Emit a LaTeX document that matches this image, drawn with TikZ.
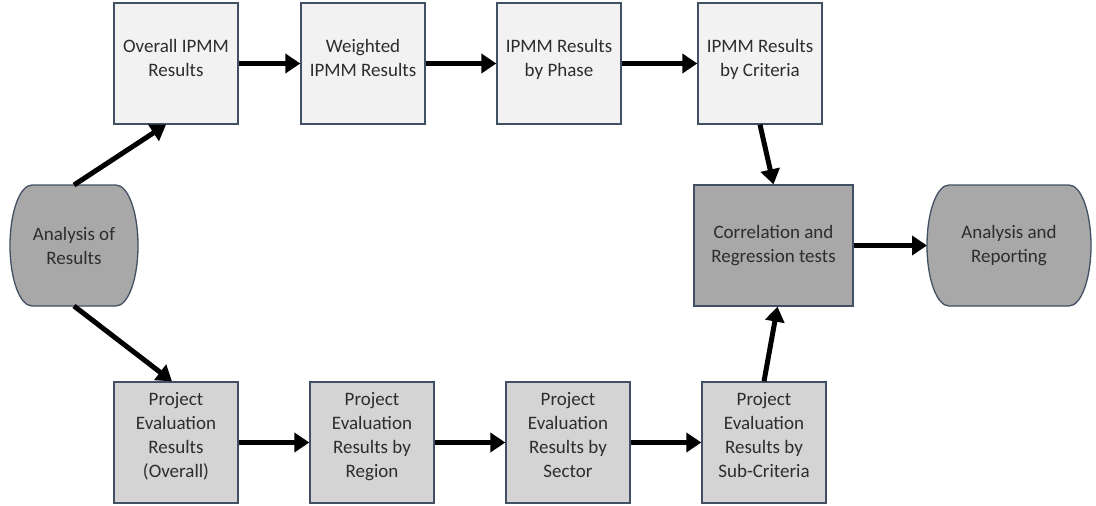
\documentclass[tikz,border=0pt]{standalone}
\usepackage{fontspec}
\setmainfont{Carlito}
\usetikzlibrary{arrows.meta}

\definecolor{edgeblue}{RGB}{66,80,100}
\definecolor{topfill}{RGB}{242,242,242}
\definecolor{lowfill}{RGB}{212,212,212}
\definecolor{darkfill}{RGB}{168,168,168}
\definecolor{inktext}{RGB}{45,45,45}

\pgfdeclarelayer{background}
\pgfsetlayers{background,main}

\begin{document}
\begin{tikzpicture}[x=1pt, y=-1pt,
  box/.style={draw=edgeblue, line width=1.3pt, minimum width=124pt,
    minimum height=121pt, align=center, inner sep=2pt, text=inktext,
    font=\fontsize{19}{24}\selectfont},
  topbox/.style={box, fill=topfill, text depth=12pt},
  lowbox/.style={box, fill=lowfill, text depth=16pt},
  midbox/.style={box, fill=darkfill},
  term/.style={minimum height=121pt, outer sep=0pt, align=center,
    text=inktext, font=\fontsize{19}{24}\selectfont},
  termline/.style={draw=edgeblue, line width=1.3pt, fill=darkfill},
  flow/.style={line width=5pt, -{Triangle[length=15pt,width=19pt]}}]

  \useasboundingbox (0,0) rectangle (1096,506);

  % Terminals
  \node[term, minimum width=128pt] (res) at (74,245.5) {Analysis of\\Results};
  \node[term, minimum width=164pt] (rep) at (1009,245.5) {Analysis and\\Reporting};

  % IPMM row
  \node[topbox] (ovr)  at (176,63.5) {Overall IPMM\\Results};
  \node[topbox] (wgt)  at (363,63.5) {Weighted\\IPMM Results};
  \node[topbox] (phs)  at (559,63.5) {IPMM Results\\by Phase};
  \node[topbox] (crit) at (760,63.5) {IPMM Results\\by Criteria};

  % Project evaluation row
  \node[lowbox] (pev) at (176,442.5) {Project\\Evaluation\\Results\\(Overall)};
  \node[lowbox] (reg) at (372,442.5) {Project\\Evaluation\\Results by\\Region};
  \node[lowbox] (sec) at (568,442.5) {Project\\Evaluation\\Results by\\Sector};
  \node[lowbox] (sub) at (764,442.5) {Project\\Evaluation\\Results by\\Sub-Criteria};

  % Tests
  \node[midbox, minimum width=159pt] (corr) at (773.5,245.5) {Correlation and\\Regression tests};

  % Terminal outlines behind the text
  \begin{pgfonlayer}{background}
    \foreach \t in {res,rep}
      \filldraw[termline] ([xshift=22pt]\t.north west) -- ([xshift=-22pt]\t.north east)
        arc[start angle=90, end angle=-90, x radius=22pt, y radius=60.5pt]
        -- ([xshift=22pt]\t.south west)
        arc[start angle=270, end angle=90, x radius=22pt, y radius=60.5pt] -- cycle;
  \end{pgfonlayer}

  % Arrows
  \draw[flow] (res.north) -- ([xshift=-10pt]ovr.south);
  \draw[flow] (res.south) -- ([xshift=-4pt]pev.north);
  \draw[flow] (ovr) -- (wgt);
  \draw[flow] (wgt) -- (phs);
  \draw[flow] (phs) -- (crit);
  \draw[flow] (pev) -- (reg);
  \draw[flow] (reg) -- (sec);
  \draw[flow] (sec) -- (sub);
  \draw[flow] (crit.south) -- (corr.north);
  \draw[flow] (sub.north) -- ([xshift=4pt]corr.south);
  \draw[flow] (corr) -- (rep);
\end{tikzpicture}
\end{document}
